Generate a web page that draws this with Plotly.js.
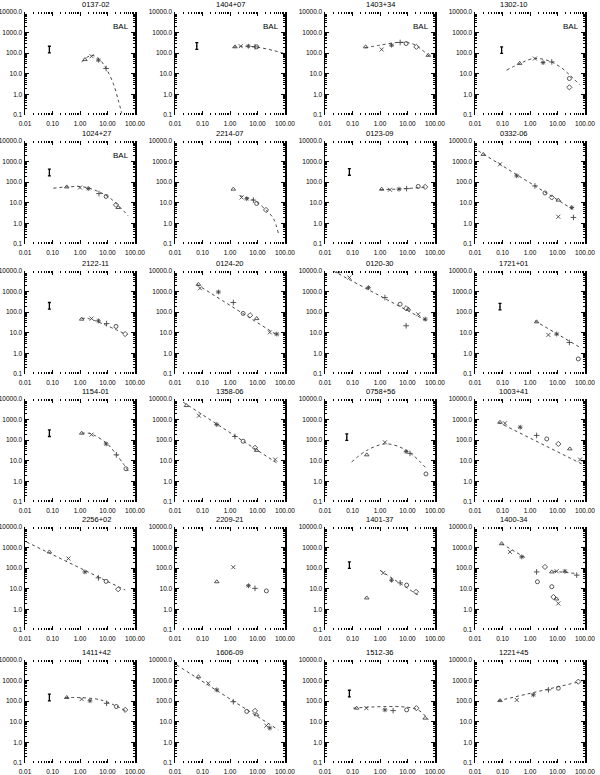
<!DOCTYPE html>
<html>
<head>
<meta charset="utf-8">
<script src="https://cdn.plot.ly/plotly-3.0.1.min.js"></script>
<style>html,body{margin:0;padding:0;background:#fff}</style>
</head>
<body>
<div id="sed_grid" style="width:600px;height:775px"></div>
<script>
// panel names, row by row
const names = [
  "0137-02", "1404+07", "1403+34", "1302-10",
  "1024+27", "2214-07", "0123-09", "0332-06",
  "2122-11", "0124-20", "0120-30", "1721+01",
  "1154-01", "1358-06", "0758+56", "1003+41",
  "2256+02", "2209-21", "1401-37", "1400-34",
  "1411+42", "1606-09", "1512-36", "1221+45"
];
const balFlags = [1, 1, 1, 1, 1, 0, 0, 0, 0, 0, 0, 0, 0, 0, 0, 0, 0, 0, 0, 0, 0, 0, 0, 0];

// measured points
const ptX = [
  [1.51, 2.63, 4.68, 8.9],
  [1.51, 2.45, 4.68, 8.1, 9.3],
  [0.30, 1.15, 2.63, 5.4, 8.9, 21, 57],
  [0.42, 1.51, 3.0, 6.2, 27, 27],
  [0.33, 1.0, 2.0, 4.9, 8.9, 20.4, 24.5],
  [1.32, 2.63, 4.07, 7.1, 9.3, 20.4],
  [1.15, 2.3, 4.9, 9.3, 24.5, 44],
  [0.02, 0.081, 0.33, 1.51, 3.5, 6.2, 10.7, 10.7, 33, 38],
  [1.15, 2.63, 4.68, 9.3, 20.4, 44],
  [0.071, 0.081, 0.38, 1.32, 3.0, 5.4, 9.3, 28, 50],
  [0.030, 0.077, 0.38, 1.51, 5.4, 8.9, 10.7, 24.5, 44, 8.9],
  [1.74, 4.68, 9.3, 27, 57],
  [1.15, 2.63, 8.9, 21, 47],
  [0.026, 0.074, 0.33, 1.51, 3.0, 8.1, 9.3, 44],
  [0.33, 1.51, 8.9, 12.3, 47],
  [0.081, 0.123, 0.44, 1.74, 4.07, 10.7, 28, 66],
  [0.077, 0.38, 1.51, 4.68, 8.9, 24.5],
  [0.33, 1.32, 4.68, 8.1, 21],
  [0.33, 1.32, 2.63, 5.4, 9.3, 20.4],
  [0.093, 0.186, 0.5, 1.74, 1.86, 3.5, 6.2, 9.3, 18.6, 50, 6.2, 7.1, 9.3, 10.7],
  [0.33, 1.15, 2.3, 9.3, 21, 44],
  [0.071, 0.162, 0.33, 1.32, 4.07, 8.1, 9.3, 21, 28],
  [0.141, 0.32, 1.51, 3.0, 9.3, 21, 44],
  [0.081, 0.33, 1.32, 4.68, 10.7, 57]
];
const ptY = [
  [49, 71, 46, 18.2],
  [204, 219, 219, 204, 204],
  [204, 151, 245, 331, 295, 204, 79],
  [32, 55, 35, 38, 5.9, 2.2],
  [59, 55, 49, 28, 20.4, 7.9, 5.9],
  [46, 18.2, 15.8, 13.5, 9.3, 4.5],
  [46, 43, 46, 49, 62, 59],
  [2240, 740, 204, 66, 30, 18.2, 13.5, 2.1, 5.9, 1.95],
  [46, 49, 38, 28, 20.4, 8.7],
  [2240, 1450, 955, 295, 87, 71, 49, 10.5, 8.7],
  [9300, 4800, 1550, 513, 245, 155, 141, 79, 46, 22],
  [34, 7.9, 8.7, 3.4, 0.54],
  [219, 186, 66, 19.5, 4.1],
  [4800, 1550, 575, 151, 89, 43, 32, 11.5],
  [19.5, 79, 28, 23, 2.3],
  [740, 660, 427, 170, 115, 66, 38, 11.5],
  [617, 295, 66, 34, 23, 9.5],
  [22, 112, 14.1, 10.5, 7.9],
  [3.6, 59, 26, 19.5, 15.1, 7.1],
  [1550, 617, 355, 66, 22, 115, 66, 71, 71, 46, 12.6, 4.0, 3.2, 1.95],
  [151, 126, 105, 79, 55, 38],
  [1550, 740, 355, 95, 32, 34, 22, 6.5, 5.0],
  [46, 46, 38, 35, 38, 46, 15.1],
  [107, 115, 204, 355, 427, 890]
];

// dotted fit curves (null = gap)
const fitX = [
  [1.15, 2.63, 5.4, 8.9, 16.2, 24.5, 33],
  [1.32, 4.07, 12.3, 38, 100],
  [0.285, 1.0, 5.4, 16.2, 66],
  [0.141, 0.44, 1.32, 4.07, 12.3, 28, 66],
  [0.107, 0.33, 1.32, 4.07, 12.3, 57],
  [2.3, 7.1, 21, 38, 57],
  [1.0, 7.1, 50],
  [0.0132, 44],
  [1.15, 2.0, 50],
  [0.062, 57],
  [0.02, 50],
  [1.51, 66],
  [1.15, 2.0, 3.0, 9.3, 21, 57],
  [0.02, 57],
  [0.093, 0.33, 1.51, 5.4, 16.2, 44],
  [0.071, 100],
  [0.0115, 44],
  [],
  [1.0, 24.5],
  [0.093, 0.76, null, 7.1, 50],
  [0.285, 5.4, 50],
  [0.0115, 57],
  [0.107, 21, 57],
  [0.071, 66]
];
const fitY = [
  [38, 79, 46, 18.2, 3.4, 0.54, 0.12],
  [195, 219, 186, 135, 95],
  [182, 245, 339, 275, 66],
  [15.1, 32, 55, 46, 22, 8.7, 2.8],
  [51, 59, 59, 38, 17, 2.3],
  [22, 13.5, 4.3, 1.7, 0.34],
  [43, 48, 59],
  [3300, 4.1],
  [49, 49, 8.1],
  [2240, 7.1],
  [10000, 38],
  [38, 1.95],
  [219, 219, 186, 71, 20.4, 3.2],
  [6900, 7.1],
  [8.7, 32, 66, 46, 18.2, 4.9],
  [740, 5.9],
  [1860, 8.7],
  [],
  [79, 4.9],
  [1550, 295, null, 71, 55],
  [151, 117, 32],
  [5750, 4.1],
  [46, 41, 12.6],
  [105, 890]
];

// "I" marks (null = none)
const barX = [0.077, 0.062, null, 0.093, 0.077, null, 0.077, null, 0.077, null, null, 0.081,
              0.077, null, 0.062, null, null, null, 0.077, null, 0.077, null, 0.077, null];
const barY = [150, 224, null, 141, 295, null, 316, null, 204, null, null, 186,
              219, null, 141, null, null, null, 141, null, 151, null, 234, null];

const xTicks = [0.01, 0.1, 1, 10, 100];
const xTickText = ["0.01", "0.10", "1.00", "10.00", "100.00"];
const yTicks = [0.1, 1, 10, 100, 1000, 10000];
const yTickText = ["0.1", "1.0", "10.0", "100.0", "1000.0", "10000.0"];

// panel geometry in page pixels
const W = 600, H = 775;
const colLeft = [25, 175, 325, 475];
const panelW = 110;
const rowTop = [12, 141, 271, 399, 527, 660];
const panelH = 103;

const symbols = ["triangle-up-open", "x-thin-open", "asterisk-open", "cross-thin-open", "circle-open", "diamond-open"];

function minorVals(lo, hi) {
  let v = [];
  for (let e = lo; e < hi; e++)
    for (let m = 2; m <= 9; m++) v.push(m * Math.pow(10, e));
  return v;
}

const fontFamily = "Liberation Sans, Arial, sans-serif";
const tickFont = {family: fontFamily, size: 6.5, color: "#000"};
let data = [];
let layout = {
  width: W, height: H,
  margin: {l: 0, r: 0, t: 0, b: 0},
  paper_bgcolor: "#fff", plot_bgcolor: "#fff",
  showlegend: false,
  annotations: []
};

for (let i = 0; i < names.length; i++) {
  const row = Math.floor(i / 4), col = i % 4;
  const n = i + 1;
  const sfx = n === 1 ? "" : String(n);
  const xa = "x" + sfx, ya = "y" + sfx;
  const x0 = colLeft[col], y0 = rowTop[row];

  layout["xaxis" + sfx] = {
    type: "log", range: [-2, 2],
    domain: [x0 / W, (x0 + panelW) / W],
    anchor: ya,
    tickmode: "array", tickvals: xTicks, ticktext: xTickText,
    ticks: "inside", ticklen: 4, tickwidth: 1, tickcolor: "#000",
    minor: {ticks: "inside", ticklen: 2, tickcolor: "#000", tickmode: "array", tickvals: minorVals(-2, 2)},
    showline: false, mirror: "ticks",
    showgrid: false, zeroline: false,
    ticklabelstandoff: 3,
    tickfont: tickFont, fixedrange: true
  };
  layout["yaxis" + sfx] = {
    type: "log", range: [-1, 4],
    domain: [1 - (y0 + panelH) / H, 1 - y0 / H],
    anchor: xa,
    tickmode: "array", tickvals: yTicks, ticktext: yTickText,
    ticks: "inside", ticklen: 4, tickwidth: 1, tickcolor: "#000",
    minor: {ticks: "inside", ticklen: 2, tickcolor: "#000", tickmode: "array", tickvals: minorVals(-1, 4)},
    showline: true, linewidth: 1.5, linecolor: "#000", mirror: "ticks",
    showgrid: false, zeroline: false,
    tickfont: tickFont, fixedrange: true
  };

  if (fitX[i].length) {
    data.push({
      x: fitX[i], y: fitY[i], xaxis: xa, yaxis: ya,
      type: "scatter", mode: "lines", line: {shape: "spline", color: "#333", width: 0.9, dash: "dot"},
      connectgaps: false, hoverinfo: "skip"
    });
  }
  data.push({
    x: ptX[i], y: ptY[i], xaxis: xa, yaxis: ya,
    type: "scatter", mode: "markers",
    marker: {
      symbol: ptX[i].map((_, k) => symbols[k % symbols.length]),
      size: 4, color: "#444", line: {color: "#444", width: 0.9}
    }
  });
  if (barX[i] !== null) {
    data.push({
      x: [barX[i]], y: [barY[i]], xaxis: xa, yaxis: ya,
      type: "scatter", mode: "markers",
      marker: {size: 1, color: "#000"},
      error_y: {type: "data", array: [barY[i] * 0.45], arrayminus: [barY[i] * 0.31], width: 1.5, thickness: 1.3, color: "#000"}
    });
  }

  layout.annotations.push({
    text: names[i], xref: "paper", yref: "paper",
    x: (x0 + panelW / 2) / W, y: 1 - (y0 - 1) / H, yanchor: "bottom",
    showarrow: false, font: {family: fontFamily, size: 7.5, color: "#000"}
  });
  if (balFlags[i]) {
    layout.annotations.push({
      text: "BAL", xref: "paper", yref: "paper",
      x: (x0 + panelW - 4) / W, y: 1 - (y0 + 8) / H, xanchor: "right",
      showarrow: false, font: {family: fontFamily, size: 8, color: "#000"}
    });
  }
}

Plotly.newPlot("sed_grid", data, layout, {staticPlot: true});
</script>
</body>
</html>
